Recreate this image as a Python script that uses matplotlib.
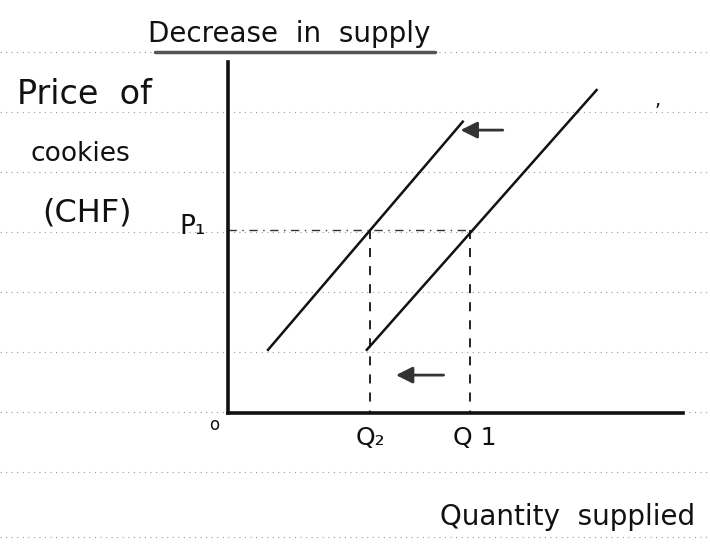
import matplotlib.pyplot as plt

# notebook ruling (figure pixel rows)
ruled_rows = [52, 112, 172, 232, 292, 352, 412, 472, 537]

# supply curves: quantity / price end points
s1_q = [3.05, 8.1]
s1_p = [1.8, 9.2]
s2_q = [0.88, 5.16]
s2_p = [1.8, 8.3]

# equilibrium values
P1 = 5.2
Q1 = 5.32
Q2 = 3.12

# shift arrows: (tail q, head q, price level)
shift_arrows = [(6.1, 5.05, 8.06), (4.8, 3.63, 1.08)]

W, H = 710, 547
fig = plt.figure(figsize=(W / 100, H / 100), dpi=100)

# page layer, pixel coordinates
bg = fig.add_axes([0, 0, 1, 1])
bg.set_xlim(0, W)
bg.set_ylim(H, 0)
bg.axis("off")
for r in ruled_rows:
    bg.plot([0, W], [r, r], color="#9a9a9a", lw=0.8, ls=(0, (1, 4)), zorder=0)

hand = dict(family="DejaVu Sans", color="#111111")
bg.text(289, 34, "Decrease  in  supply", fontsize=20, ha="center", va="center", **hand)
bg.plot([155, 435], [52, 52], color="#555555", lw=2.5, solid_capstyle="round")
bg.text(17, 95, "Price  of", fontsize=24, ha="left", va="center", **hand)
bg.text(30, 154, "cookies", fontsize=19, ha="left", va="center", **hand)
bg.text(42, 213, "(CHF)", fontsize=23, ha="left", va="center", **hand)
bg.text(568, 517, "Quantity  supplied", fontsize=20, ha="center", va="center", **hand)
bg.text(658, 100, ",", fontsize=14, ha="center", va="center", **hand)

# chart axes: origin at pixel (228, 413)
x0, y0, xr, yt = 228, 413, 683, 62
ax = fig.add_axes([x0 / W, (H - y0) / H, (xr - x0) / W, (y0 - yt) / H])
ax.set_facecolor("none")
ax.set_xlim(0, 10)
ax.set_ylim(0, 10)
ax.set_xticks([])
ax.set_yticks([])
for side in ["top", "right"]:
    ax.spines[side].set_visible(False)
for side in ["left", "bottom"]:
    ax.spines[side].set_linewidth(2.6)
    ax.spines[side].set_color("#111111")

ax.plot(s1_q, s1_p, color="#111111", lw=1.8)
ax.plot(s2_q, s2_p, color="#111111", lw=1.8)

# price guide and quantity drops
ax.plot([0, Q1], [P1, P1], color="#333333", lw=1.0, ls=(0, (6, 4, 1, 4)))
ax.plot([Q2, Q2], [P1, 0], color="#111111", lw=1.3, ls=(0, (5, 5)))
ax.plot([Q1, Q1], [P1, 0], color="#111111", lw=1.3, ls=(0, (5, 5)))

for tail, head, p in shift_arrows:
    ax.annotate("", xy=(head, p), xytext=(tail, p),
                arrowprops=dict(arrowstyle="-|>,head_length=1.0,head_width=0.5",
                                color="#333333", lw=2.0))

ax.text(-0.2, -0.35, "o", fontsize=12, ha="right", va="center", clip_on=False, **hand)
ax.text(-0.77, P1 + 0.1, "P₁", fontsize=19, ha="center", va="center", clip_on=False, **hand)
ax.text(Q2, -0.7, "Q₂", fontsize=18, ha="center", va="center", clip_on=False, **hand)
ax.text(Q1 + 0.1, -0.7, "Q 1", fontsize=18, ha="center", va="center", clip_on=False, **hand)

fig.savefig("out.png", dpi=100)
